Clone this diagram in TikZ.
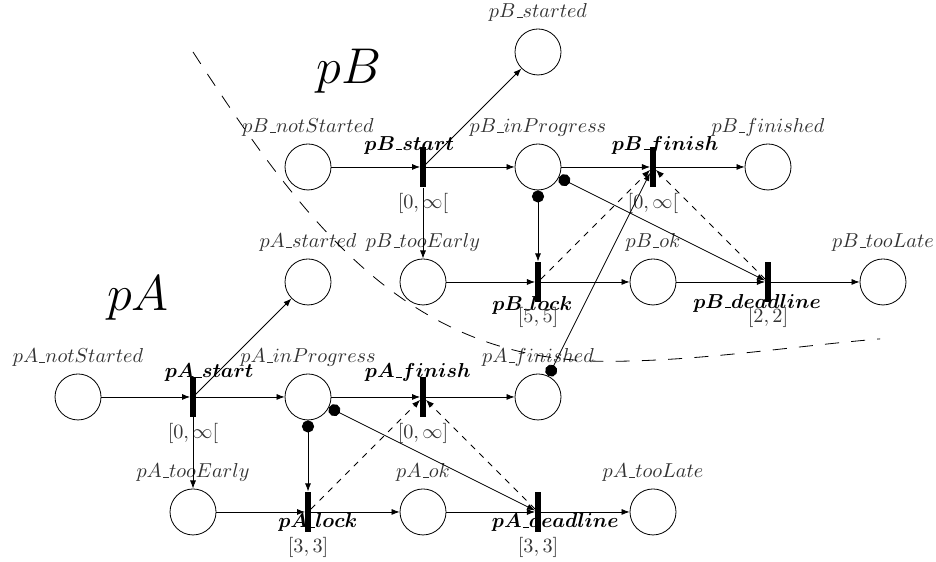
\documentclass[tikz,border=0pt]{standalone}
\usepackage{amsmath}
\usetikzlibrary{arrows.meta,positioning}

% short underscore as in the old LaTeX fonts
\newcommand{\usc}{\kern.06em\vbox{\hrule width.3em}}

\begin{document}
\begin{tikzpicture}[
        place/.style={circle, draw, minimum size=0.8cm, inner sep=0pt},
        every label/.style={text=black!80},
        trans/.style={rectangle, fill=black, minimum width=2.5pt, minimum height=0.7cm, inner sep=0pt},
        tname/.style={font=\boldmath},
        tint/.style={text=black!80},
        arc/.style={-{Latex[length=4pt,width=3pt]}},
        readarc/.style={{Circle[length=6pt]}-{Latex[length=4pt,width=3pt]}},
        prio/.style={dashed, -{Latex[length=4pt,width=3pt]}},
        zone/.style={dash pattern=on 7pt off 6pt}
    ]
        \useasboundingbox (-1.357,-2.870) rectangle (14.922,6.904);

        % Places of pA
        \node[place, label={above:$pA\usc notStarted$}] (pAnotStarted) at (0,0)   {};
        \node[place, label={above:$pA\usc started$}]    (pAstarted)    at (4,2)   {};
        \node[place, label={above:$pA\usc inProgress$}] (pAinProgress) at (4,0)   {};
        \node[place, label={above:$pA\usc finished$}]   (pAfinished)   at (8,0)   {};
        \node[place, label={above:$pA\usc tooEarly$}]   (pAtooEarly)   at (2,-2)  {};
        \node[place, label={above:$pA\usc ok$}]         (pAok)         at (6,-2)  {};
        \node[place, label={above:$pA\usc tooLate$}]    (pAtooLate)    at (10,-2) {};

        % Places of pB
        \node[place, label={above:$pB\usc notStarted$}] (pBnotStarted) at (4,4)   {};
        \node[place, label={above:$pB\usc started$}]    (pBstarted)    at (8,6)   {};
        \node[place, label={above:$pB\usc inProgress$}] (pBinProgress) at (8,4)   {};
        \node[place, label={above:$pB\usc finished$}]   (pBfinished)   at (12,4)  {};
        \node[place, label={above:$pB\usc tooEarly$}]   (pBtooEarly)   at (6,2)   {};
        \node[place, label={above:$pB\usc ok$}]         (pBok)         at (10,2)  {};
        \node[place, label={above:$pB\usc tooLate$}]    (pBtooLate)    at (14,2)  {};

        % Transitions
        \node[trans] (pAstart)    at (2,0)  {};
        \node[trans] (pAfinish)   at (6,0)  {};
        \node[trans] (pAlock)     at (4,-2) {};
        \node[trans] (pAdeadline) at (8,-2) {};
        \node[trans] (pBstart)    at (6,4)  {};
        \node[trans] (pBfinish)   at (10,4) {};
        \node[trans] (pBlock)     at (8,2)  {};
        \node[trans] (pBdeadline) at (12,2) {};

        % Names and intervals of transitions
        \node[tname] (pAstartN)    at (2.28,0.42)   {$pA\usc start$};
        \node[tint]  (pAstartI)    at (2,-0.63)     {$[0,\infty[$};
        \node[tname] (pAfinishN)   at (5.91,0.42)   {$pA\usc finish$};
        \node[tint]  (pAfinishI)   at (6,-0.63)     {$[0,\infty]$};
        \node[tname] (pAlockN)     at (4.17,-2.19)  {$pA\usc lock$};
        \node[tint]  (pAlockI)     at (4,-2.61)     {$[3,3]$};
        \node[tname] (pAdeadlineN) at (8.30,-2.19)  {$pA\usc deadline$};
        \node[tint]  (pAdeadlineI) at (8,-2.61)     {$[3,3]$};
        \node[tname] (pBstartN)    at (5.76,4.38)   {$pB\usc start$};
        \node[tint]  (pBstartI)    at (6,3.37)      {$[0,\infty[$};
        \node[tname] (pBfinishN)   at (10.21,4.38)  {$pB\usc finish$};
        \node[tint]  (pBfinishI)   at (10,3.37)     {$[0,\infty[$};
        \node[tname] (pBlockN)     at (7.90,1.60)   {$pB\usc lock$};
        \node[tint]  (pBlockI)     at (8,1.39)      {$[5,5]$};
        \node[tname] (pBdeadlineN) at (11.81,1.63)  {$pB\usc deadline$};
        \node[tint]  (pBdeadlineI) at (12,1.39)     {$[2,2]$};

        % Process names
        \node[font=\Huge] (pAname) at (1.04,1.72) {$pA$};
        \node[font=\Huge] (pBname) at (4.71,5.67) {$pB$};

        % Arcs of pA
        \draw[arc] (pAnotStarted) -- (pAstart);
        \draw[arc] (pAstart) -- (pAinProgress);
        \draw[arc] (pAstart.center) -- (pAstarted);
        \draw[arc] (pAstart) -- (pAtooEarly);
        \draw[arc] (pAinProgress) -- (pAfinish);
        \draw[arc] (pAfinish) -- (pAfinished);
        \draw[arc] (pAtooEarly) -- (pAlock);
        \draw[arc] (pAlock) -- (pAok);
        \draw[arc] (pAok) -- (pAdeadline);
        \draw[arc] (pAdeadline) -- (pAtooLate);
        \draw[readarc] (pAinProgress) -- (pAlock);
        \draw[readarc] (pAinProgress) -- (pAdeadline);
        \draw[prio] (pAlock) -- (pAfinish);
        \draw[prio] (pAdeadline) -- (pAfinish);

        % Arcs of pB
        \draw[arc] (pBnotStarted) -- (pBstart);
        \draw[arc] (pBstart) -- (pBinProgress);
        \draw[arc] (pBstart.center) -- (pBstarted);
        \draw[arc] (pBstart) -- (pBtooEarly);
        \draw[arc] (pBinProgress) -- (pBfinish);
        \draw[arc] (pBfinish) -- (pBfinished);
        \draw[arc] (pBtooEarly) -- (pBlock);
        \draw[arc] (pBlock) -- (pBok);
        \draw[arc] (pBok) -- (pBdeadline);
        \draw[arc] (pBdeadline) -- (pBtooLate);
        \draw[readarc] (pBinProgress) -- (pBlock);
        \draw[readarc] (pBinProgress) -- (pBdeadline);
        \draw[prio] (pBlock) -- (pBfinish);
        \draw[prio] (pBdeadline) -- (pBfinish);

        % pA finished before pB finishes
        \draw[readarc] (pAfinished) -- (pBfinish);

        % Border between pA and pB
        \draw[zone] (2,6) .. controls (3.91,3.06) and (5.7,0.62) .. (9.2,0.62)
                          .. controls (10.8,0.62) and (12.4,0.88) .. (13.95,1.01);
    \end{tikzpicture}
\end{document}
